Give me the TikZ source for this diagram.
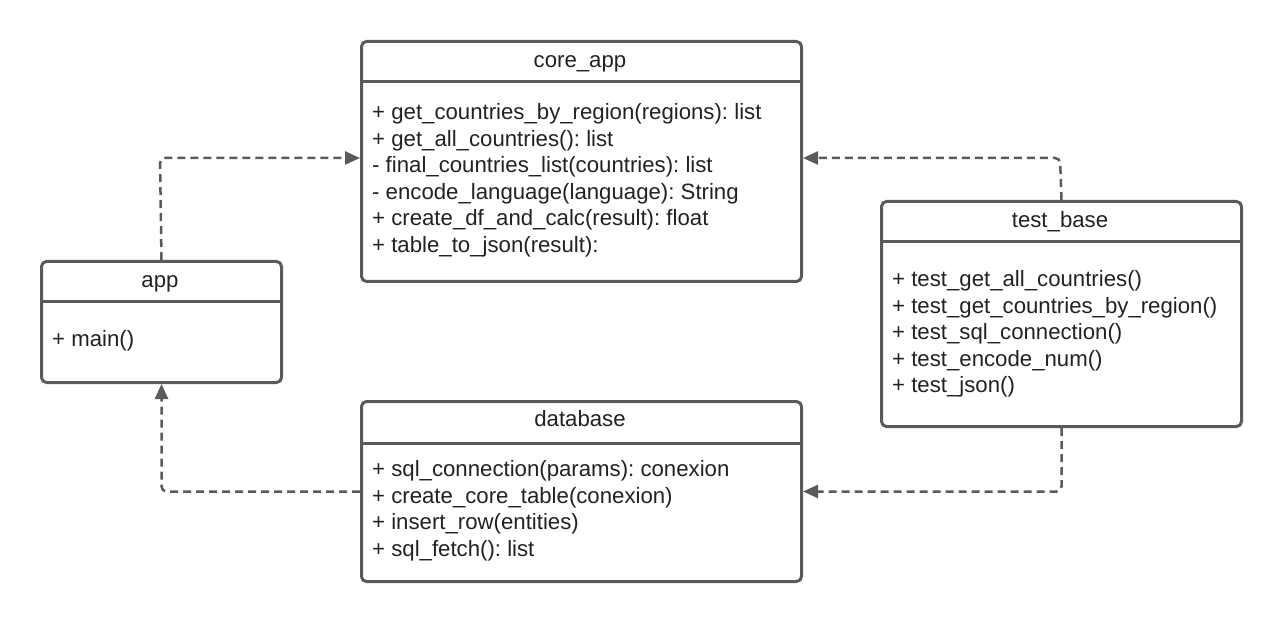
\documentclass[tikz,border=0pt]{standalone}
\usepackage{fontspec}
\setmainfont{Liberation Sans}
\usetikzlibrary{arrows.meta}
\definecolor{linegray}{HTML}{5A5A5A}
\definecolor{txt}{HTML}{222222}
\tikzset{
  classbox/.style={draw=linegray, line width=3pt, rounded corners=5pt, anchor=north west, inner sep=0pt, fill=white},
  divider/.style={draw=linegray, line width=3pt},
  title/.style={anchor=mid, inner sep=0pt, yshift=-6pt, text=txt, font=\fontsize{22.2}{26}\selectfont},
  member/.style={anchor=mid west, inner sep=0pt, yshift=-6pt, text=txt, font=\fontsize{22.2}{26}\selectfont},
  dep/.style={draw=linegray, line width=2.5pt, dash pattern=on 8pt off 5pt, rounded corners=5pt, -{Triangle[length=15pt,width=13pt]}}
}
\begin{document}
\frenchspacing
\begin{tikzpicture}[x=1pt,y=-1pt]
\useasboundingbox (0,0) rectangle (1280,620);
% core_app
\node[classbox, minimum width=440pt, minimum height=240pt] (core) at (360,40) {};
\draw[divider] (360,82) -- (800,82);
\node[title] (coreT) at (580,59) {core\_app};
\node[member] (c1) at (372,111) {+ get\_countries\_by\_region(regions): list};
\node[member] (c2) at (372,137.5) {+ get\_all\_countries(): list};
\node[member] (c3) at (372,164) {- final\_countries\_list(countries): list};
\node[member] (c4) at (372,190.5) {- encode\_language(language): String};
\node[member] (c5) at (372,217) {+ create\_df\_and\_calc(result): float};
\node[member] (c6) at (372,243.5) {+ table\_to\_json(result):};
% app
\node[classbox, minimum width=240pt, minimum height=121pt] (app) at (40,260) {};
\draw[divider] (40,302) -- (280,302);
\node[title] (appT) at (160,279) {app};
\node[member] (a1) at (52,338) {+ main()};
% database
\node[classbox, minimum width=440pt, minimum height=180pt] (db) at (360,400) {};
\draw[divider] (360,443) -- (800,443);
\node[title] (dbT) at (580,418) {database};
\node[member] (d1) at (372,468) {+ sql\_connection(params): conexion};
\node[member] (d2) at (372,494.5) {+ create\_core\_table(conexion)};
\node[member] (d3) at (372,521) {+ insert\_row(entities)};
\node[member] (d4) at (372,547.5) {+ sql\_fetch(): list};
% test_base
\node[classbox, minimum width=360pt, minimum height=225pt] (tb) at (880,200) {};
\draw[divider] (880,242) -- (1240,242);
\node[title] (tbT) at (1060,219) {test\_base};
\node[member] (t1) at (892,278) {+ test\_get\_all\_countries()};
\node[member] (t2) at (892,304.5) {+ test\_get\_countries\_by\_region()};
\node[member] (t3) at (892,331) {+ test\_sql\_connection()};
\node[member] (t4) at (892,357.5) {+ test\_encode\_num()};
\node[member] (t5) at (892,384) {+ test\_json()};
% connectors
\coordinate (k1) at (160,158);
\coordinate (k2) at (1060,158);
\draw[dep] (app.north) -- (k1) -- (k1 -| core.west);
\draw[dep] (tb.north) -- (k2) -- (k2 -| core.east);
\draw[dep] (db.west) -| (app.south);
\draw[dep] (tb.south) |- (db.east);
\end{tikzpicture}
\end{document}
